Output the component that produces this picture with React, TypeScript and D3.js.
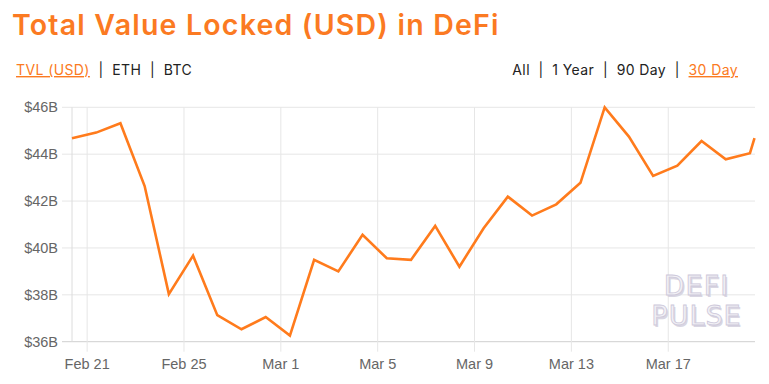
import React from "react";
import * as d3 from "d3";

const dates: Date[] = [
  ...d3.range(29).map((i) => new Date(2021, 1, 20 + i, 9, 0)),
  new Date(2021, 2, 20, 13, 30),
];
const tvl: number[] = [
  44.68, 44.92, 45.32, 42.64, 38.03, 39.67, 37.13, 36.53, 37.05, 36.26,
  39.49, 39.0, 40.56, 39.56, 39.49, 40.94, 39.2, 40.84, 42.19, 41.38,
  41.86, 42.78, 46.0, 44.75, 43.07, 43.51, 44.56, 43.78, 44.04, 44.68,
];
const yTicks: number[] = [36, 38, 40, 42, 44, 46];
const xTickDates: Date[] = [
  new Date(2021, 1, 21), new Date(2021, 1, 25), new Date(2021, 2, 1),
  new Date(2021, 2, 5), new Date(2021, 2, 9), new Date(2021, 2, 13),
  new Date(2021, 2, 17),
];
const leftLinks = ["TVL (USD)", "ETH", "BTC"];
const rightLinks = ["All", "1 Year", "90 Day", "30 Day"];

const ORANGE = "#fb7a22";

export default function App() {
  const W = 769, H = 384;
  const x = d3.scaleTime().domain([dates[0], dates[dates.length - 1]]).range([72, 754.5]);
  const y = d3.scaleLinear().domain([36, 46]).range([341.7, 107.3]);
  const line = d3.line<number>().x((_, i) => x(dates[i])).y((d) => y(d));
  const fmt = d3.timeFormat("%b %-d");
  const axisFont = "'Liberation Sans', Arial, sans-serif";
  const uiFont = "Inter, 'Noto Sans', sans-serif";

  const links = (items: string[], active: number) =>
    items.map((l, i) => (
      <React.Fragment key={l}>
        {i > 0 && <tspan fill="#222">{"\u00a0\u00a0|\u00a0\u00a0"}</tspan>}
        <tspan fill={i === active ? ORANGE : "#222"} textDecoration={i === active ? "underline" : "none"}>{l}</tspan>
      </React.Fragment>
    ));

  return (
    <svg width={W} height={H} style={{ position: "absolute", left: 0, top: 0 }}>
      <rect width={W} height={H} fill="#fff" />
      <text x={12} y={35} fill={ORANGE} fontFamily={uiFont} fontWeight={600} fontSize={28.5} letterSpacing={1.2}>
        Total Value Locked (USD) in DeFi
      </text>
      <text x={16} y={75} fontFamily={uiFont} fontSize={14} fill="#222" letterSpacing={0.4}>
        {links(leftLinks, 0)}
      </text>
      <text x={738} y={75} textAnchor="end" fontFamily={uiFont} fontSize={14} fill="#222" letterSpacing={0.4}>
        {links(rightLinks, 3)}
      </text>

      {yTicks.map((t) => (
        <g key={t}>
          <line x1={62} x2={755} y1={y(t)} y2={y(t)} stroke={t === 36 ? "#cfcfcf" : "#e6e6e6"} strokeWidth={1} />
          <text x={58} y={y(t) + 5} textAnchor="end" fontFamily={axisFont} fontSize={14.5} fill="#666">
            {`$${t}B`}
          </text>
        </g>
      ))}
      <line x1={72} x2={72} y1={y(46)} y2={y(36)} stroke="#dcdcdc" />
      {xTickDates.map((d) => (
        <g key={+d}>
          <line x1={x(d)} x2={x(d)} y1={y(46)} y2={351.7} stroke="#e6e6e6" />
          <text x={x(d)} y={369} textAnchor="middle" fontFamily={axisFont} fontSize={14.5} fill="#666">
            {fmt(d)}
          </text>
        </g>
      ))}

      <g fontFamily="'DejaVu Sans', sans-serif" fontSize={27} textAnchor="middle" letterSpacing={1}>
        {[["DEFI", 295], ["PULSE", 325]].map(([t, yy]) => (
          <g key={t as string}>
            <text x={698} y={(yy as number) + 1.5} fill="#d9d6e2">{t}</text>
            <text x={696.5} y={yy as number} fill="#f1f0f5" stroke="#cdc8da" strokeWidth={0.8}>{t}</text>
          </g>
        ))}
      </g>

      <path d={line(tvl) || ""} fill="none" stroke="#ff7b1c" strokeWidth={2.6} strokeLinejoin="miter" />
    </svg>
  );
}
